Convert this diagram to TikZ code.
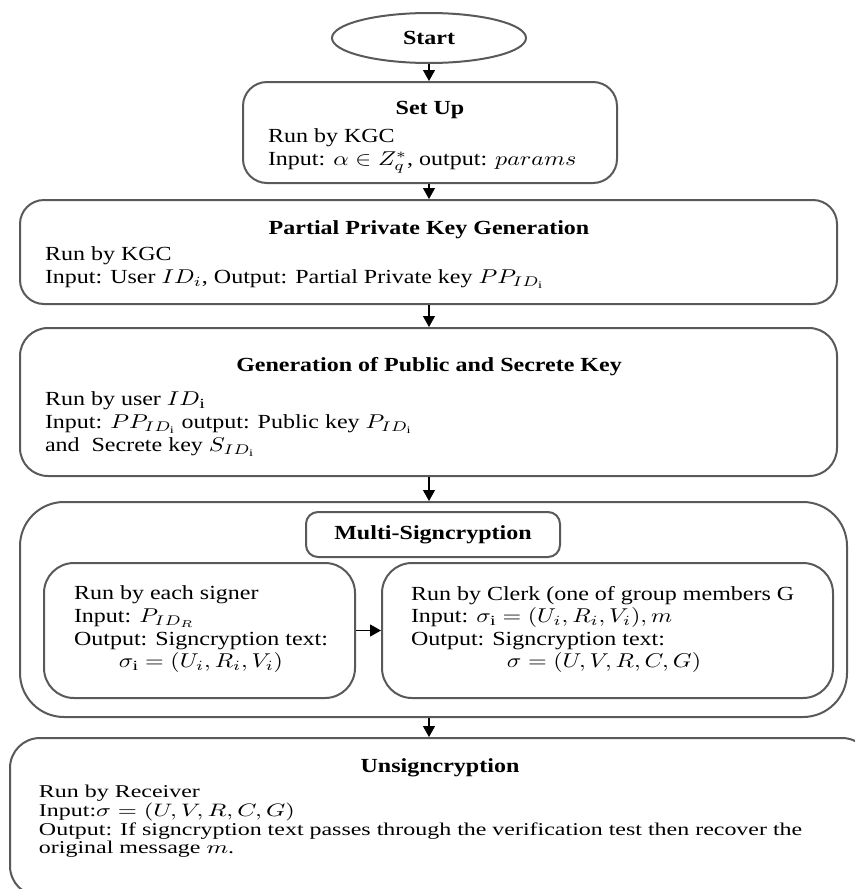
\documentclass[tikz,border=0pt]{standalone}
\usepackage{fontspec}
\usepackage{graphicx}
\setmainfont[FakeStretch=1.2]{Liberation Serif}
\newfontfamily\flatserif[FakeStretch=1.33]{Liberation Serif}
\usetikzlibrary{arrows.meta,positioning,shapes.geometric}
% math widened like the text
\newcommand{\wm}[2][1.2]{\scalebox{#1}[1]{$#2$}}

\begin{document}
\begin{tikzpicture}[
    x=0.5pt, y=0.5pt, line width=1pt,
    font=\fontsize{10}{11.3}\selectfont,
    box/.style={draw=black!65,rounded corners=12pt,inner sep=0pt},
    title/.style={font=\fontsize{10}{11.3}\selectfont\bfseries,inner sep=0pt},
    body/.style={align=left,inner sep=0pt,anchor=north west},
    arrow/.style={-{Triangle[length=5.5pt,width=6pt]},line width=0.6pt}
]
\path[use as bounding box] (0,0) rectangle (855,-889);

\node[draw=black!65,ellipse,minimum width=97pt,minimum height=25pt,inner sep=0pt,
    font=\fontsize{10}{11.3}\selectfont\bfseries] (start) at (429,-38) {Start};

% set up
\node[box,minimum width=187pt,minimum height=50.5pt] (setup) at (430,-132.5) {};
\node[title] (setupt) at (430,-110) {Set Up};
\node[body] (setupb) at (267,-128) {Run by KGC\\Input: \wm{\alpha \in Z_q^*}, output: \wm{params}};
\draw[arrow] (start.south) -- (setup.north -| start.south);

% partial private key
\node[box,minimum width=408.5pt,minimum height=52pt] (ppk) at (428.5,-252) {};
\node[title] (ppkt) at (429,-230) {Partial Private Key Generation};
\node[body] (ppkb) at (44,-246) {Run by KGC\\Input: User \wm{ID_i}, Output: Partial Private key \wm{PP_{ID_\mathrm{i}}}};
\draw[arrow] (start.south |- setup.south) -- (start.south |- ppk.north);

% public and secrete key
\node[box,minimum width=408.5pt,minimum height=74pt,rounded corners=14pt] (keys) at (428.5,-402) {};
\node[title] (keyst) at (429,-367) {Generation of Public and Secrete Key};
\node[body] (keysb) at (44,-391) {Run by user \wm{ID_\mathrm{i}}\\Input: \wm{PP_{ID_\mathrm{i}}} output: Public key \wm{P_{ID_\mathrm{i}}}\\and~ Secrete key \wm{S_{ID_\mathrm{i}}}};
\draw[arrow] (start.south |- ppk.south) -- (start.south |- keys.north);

% multi-signcryption
\node[box,minimum width=413.5pt,minimum height=107.5pt,rounded corners=22pt] (multi) at (433.5,-609.5) {};
\node[box,minimum width=127pt,minimum height=22.5pt,rounded corners=6pt,
    font=\fontsize{10}{11.3}\selectfont\bfseries] (multit) at (433,-534.5) {Multi-Signcryption};
\node[box,minimum width=155.5pt,minimum height=67.5pt,rounded corners=15pt] (sign) at (199.5,-630.5) {};
\node[body] (signb) at (73,-585) {Run by each signer\\Input: \wm{P_{ID_R}}\\Output: Signcryption text:};
\node[inner sep=0pt] (signs) at (201,-662) {\wm{\sigma_\mathrm{i} = (U_i,R_i,V_i)}};
\node[box,minimum width=225.5pt,minimum height=67.5pt,rounded corners=15pt] (clerk) at (607.5,-630.5) {};
\node[body] (clerkb) at (410,-585) {Run by Clerk (one of group members G\\Input: \wm{\sigma_\mathrm{i} = (U_i,R_i,V_i), m}\\Output: Signcryption text:};
\node[inner sep=0pt] (clerks) at (604,-662) {\wm{\sigma = (U,V,R,C,G)}};
\draw[arrow] (sign.east) -- (clerk.west);
\draw[arrow] (start.south |- keys.south) -- (start.south |- multi.north);

% unsigncryption
\node[box,minimum width=431pt,minimum height=79pt,rounded corners=15pt] (unsign) at (441,-817) {};
\node[title] (unsignt) at (440,-768) {Unsigncryption};
\node[body,font=\flatserif\fontsize{9}{9.4}\selectfont] (unsignb) at (38,-784)
    {Run by Receiver\\Input:\wm[1.33]{\sigma = (U,V,R,C,G)}\\Output: If signcryption text passes through the verification test then recover the\\original message \wm[1.33]{m}.};
\draw[arrow] (start.south |- multi.south) -- (start.south |- unsign.north);
\end{tikzpicture}
\end{document}
